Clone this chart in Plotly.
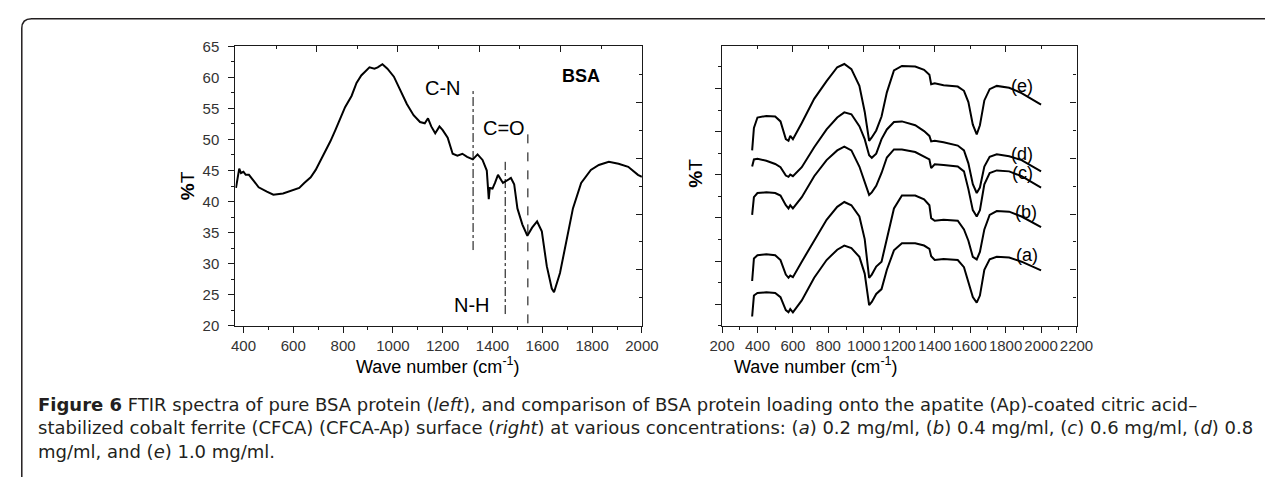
import plotly.graph_objects as go

W, H = 1282, 487

# ---------------- Left panel: pure BSA ----------------
bsa_x = [370, 377, 383, 390, 400, 409, 422, 442, 461, 494, 520, 559, 598, 624, 644,
         670, 690, 710, 729, 749, 769, 788, 808, 834, 854, 873, 906, 926, 939, 958,
         978, 1004, 1030, 1056, 1083, 1109, 1128, 1141, 1154, 1170, 1187, 1200, 1220,
         1240, 1259, 1279, 1298, 1321, 1340, 1360, 1377, 1385, 1389, 1400, 1410, 1422,
         1442, 1459, 1474, 1487, 1500, 1520, 1540, 1559, 1579, 1598, 1618, 1638, 1647,
         1671, 1697, 1723, 1756, 1795, 1827, 1867, 1906, 1945, 1984, 2000]
bsa_t = [42.2, 44.0, 45.3, 44.6, 44.8, 44.3, 44.3, 43.3, 42.3, 41.6, 41.1, 41.3, 41.8,
         42.2, 43.0, 43.9, 45.1, 46.6, 48.2, 49.7, 51.5, 53.4, 55.2, 57.0, 59.1, 60.3,
         61.6, 61.4, 61.6, 62.1, 61.4, 60.1, 57.8, 55.7, 53.9, 52.8, 52.6, 53.4, 52.1,
         51.0, 52.1, 51.5, 50.3, 47.7, 47.4, 47.7, 47.2, 46.8, 47.6, 46.7, 45.0, 40.4,
         42.2, 42.1, 43.0, 44.3, 43.0, 43.5, 43.8, 42.8, 38.9, 36.3, 34.5, 35.8, 36.8,
         35.2, 29.6, 26.0, 25.4, 28.5, 33.7, 38.9, 43.0, 45.1, 45.9, 46.4, 46.1, 45.6,
         44.3, 44.0]

band_names = ["C-N", "N-H", "C=O"]
band_pos = [1322, 1451, 1542]
band_top = [58.0, 46.4, 51.3]
band_bottom = [32.2, 21.9, 20.4]
band_dash = ["dashdot", "dashdot", "dash"]
band_label_x = [1200, 1318, 1448]
band_label_y = [58.3, 23.4, 51.8]

# ---------------- Right panel: BSA on CFCA-Ap ----------------
wn = [370, 380, 400, 450, 500, 530, 560, 575, 585, 600, 650, 720, 790, 850, 890, 930,
      975, 1005, 1030, 1045, 1070, 1100, 1130, 1170, 1215, 1290, 1340, 1370, 1380,
      1400, 1450, 1530, 1565, 1590, 1615, 1637, 1655, 1680, 1710, 1750, 1820, 1890, 2000]

spec_e = [40.66, 45.89, 48.28, 48.65, 48.5, 47.38, 43.27, 42.9, 44.02, 43.27, 47.01,
          52.62, 56.73, 59.94, 60.69, 59.49, 55.61, 49.63, 42.9, 43.65, 45.29, 48.5,
          54.11, 59.19, 60.24, 60.09, 59.34, 58.22, 55.98, 56.2, 55.75, 55.46, 54.48,
          51.87, 46.64, 44.39, 46.49, 52.24, 54.86, 55.61, 55.16, 53.96, 51.27]
spec_d = [36.92, 38.56, 38.71, 38.27, 37.52, 36.77, 34.83, 34.53, 35.05, 34.68, 36.77,
          41.4, 45.52, 48.28, 49.48, 49.03, 46.26, 43.27, 39.54, 38.94, 39.91, 43.27,
          45.52, 47.23, 47.38, 46.49, 45.14, 44.02, 42.75, 42.9, 42.53, 41.78, 40.66,
          37.67, 32.81, 30.79, 32.06, 36.92, 39.16, 39.76, 39.31, 38.41, 35.8]
spec_c = [25.71, 29.82, 30.79, 30.94, 30.79, 30.19, 27.95, 27.2, 27.95, 27.2, 29.82,
          34.68, 38.41, 40.66, 41.55, 40.66, 36.92, 33.18, 30.34, 30.94, 32.44, 35.43,
          39.01, 40.88, 40.88, 40.28, 39.16, 38.56, 36.55, 37.44, 37.29, 36.92, 35.8,
          31.69, 26.83, 25.34, 26.83, 32.81, 35.43, 36.02, 35.8, 34.68, 32.06]
spec_b = [10.39, 15.62, 16.37, 16.59, 16.37, 15.25, 11.88, 11.14, 11.66, 11.29, 14.87,
          19.73, 24.59, 27.58, 28.7, 27.95, 25.34, 20.1, 11.14, 11.88, 13.75, 14.87,
          20.48, 27.2, 30.19, 30.19, 29.3, 27.95, 24.96, 24.36, 24.59, 24.36, 22.35,
          19.73, 15.99, 15.39, 17.11, 22.35, 25.71, 26.61, 26.46, 25.34, 22.87]
spec_a = [2.17, 7.02, 7.62, 7.77, 7.62, 6.65, 3.66, 3.14, 3.89, 3.14, 5.9, 11.14,
          15.25, 17.64, 18.61, 18.01, 15.99, 12.11, 4.78, 5.53, 7.4, 8.52, 13.0, 17.49,
          19.13, 19.13, 18.61, 17.86, 16.14, 15.25, 15.47, 15.25, 13.6, 10.39, 6.65,
          5.38, 7.02, 13.0, 15.4, 15.99, 15.84, 14.87, 12.85]

series_labels = ["(a)", "(b)", "(c)", "(d)", "(e)"]
series_values = [spec_a, spec_b, spec_c, spec_d, spec_e]
label_x = [1921, 1915, 1893, 1893, 1893]
label_y = [16.4, 26.5, 35.4, 39.9, 55.6]

caption_lines = [
    "<b>Figure 6</b> FTIR spectra of pure BSA protein (<i>left</i>), and comparison of BSA protein loading onto the apatite (Ap)-coated citric acid\u2013",
    "stabilized cobalt ferrite (CFCA) (CFCA-Ap) surface (<i>right</i>) at various concentrations: (<i>a</i>) 0.2 mg/ml, (<i>b</i>) 0.4 mg/ml, (<i>c</i>) 0.6 mg/ml, (<i>d</i>) 0.8",
    "mg/ml, and (<i>e</i>) 1.0 mg/ml.",
]

# ---------------- geometry (pixels -> paper) ----------------
def px(x):
    return x / W

def py(y):
    return 1 - y / H

L_dom_x = [px(227.7), px(644)]
R_dom_x = [px(726), px(1089)]
dom_y = [py(328.3), py(38.6)]

AX_FONT = "Liberation Sans, Arial, sans-serif"
LINE_C = "#1a1a1a"

fig = go.Figure()

fig.add_trace(go.Scatter(x=bsa_x, y=bsa_t, mode="lines", line=dict(color="black", width=2),
                         xaxis="x", yaxis="y", showlegend=False, hoverinfo="skip"))
for i, name in enumerate(band_names):
    fig.add_trace(go.Scatter(x=[band_pos[i], band_pos[i]], y=[band_bottom[i], band_top[i]],
                             mode="lines", line=dict(color="black", width=1, dash=band_dash[i]),
                             xaxis="x", yaxis="y", showlegend=False, hoverinfo="skip"))

for vals in series_values:
    fig.add_trace(go.Scatter(x=wn, y=vals, mode="lines", line=dict(color="black", width=2),
                             xaxis="x2", yaxis="y2", showlegend=False, hoverinfo="skip"))

# dummy traces to activate frame-tick axes
fig.add_trace(go.Scatter(x=[None], y=[None], xaxis="x3", yaxis="y3", showlegend=False))
fig.add_trace(go.Scatter(x=[None], y=[None], xaxis="x4", yaxis="y4", showlegend=False))

base = dict(showgrid=False, zeroline=False, showline=True, linecolor=LINE_C, linewidth=1.2,
            tickcolor=LINE_C, tickwidth=1,
            tickfont=dict(family=AX_FONT, size=15, color="#333333"))

fig.update_layout(
    width=W, height=H,
    margin=dict(l=0, r=0, t=0, b=0),
    paper_bgcolor="white", plot_bgcolor="white",
    xaxis=dict(**base, domain=L_dom_x, anchor="y", range=[367.5, 2000], tick0=400, dtick=200,
               ticks="outside", ticklen=6, ticklabelstandoff=0,
               minor=dict(dtick=100, ticks="outside", ticklen=3, tickcolor=LINE_C)),
    yaxis=dict(**base, domain=dom_y, anchor="x", range=[20, 65], tick0=20, dtick=5,
               ticks="outside", ticklen=6, ticklabelstandoff=6,
               minor=dict(dtick=2.5, ticks="outside", ticklen=3, tickcolor=LINE_C)),
    xaxis2=dict(**base, domain=R_dom_x, anchor="y2", range=[200, 2200], tick0=200, dtick=200,
                ticks="outside", ticklen=6, ticklabelstandoff=0,
                minor=dict(dtick=100, ticks="outside", ticklen=3, tickcolor=LINE_C)),
    yaxis2=dict(**base, domain=dom_y, anchor="x2", range=[0, 64.8], tick0=5, dtick=10,
                ticks="outside", ticklen=6, showticklabels=False,
                minor=dict(dtick=5, tick0=0, ticks="outside", ticklen=3, tickcolor=LINE_C)),
    xaxis3=dict(**base, overlaying="x", anchor="y3", side="top", range=[0, 5], dtick=1,
                ticks="inside", ticklen=6, showticklabels=False,
                minor=dict(dtick=0.5, ticks="inside", ticklen=3, tickcolor=LINE_C)),
    yaxis3=dict(**base, overlaying="y", anchor="x3", side="right", range=[0, 5], dtick=1,
                ticks="inside", ticklen=6, showticklabels=False,
                minor=dict(dtick=0.5, ticks="inside", ticklen=3, tickcolor=LINE_C)),
    xaxis4=dict(**base, overlaying="x2", anchor="y4", side="top", range=[200, 2200], tick0=200,
                dtick=400, ticks="inside", ticklen=6, showticklabels=False,
                minor=dict(dtick=200, ticks="inside", ticklen=3, tickcolor=LINE_C)),
    yaxis4=dict(**base, overlaying="y2", anchor="x4", side="right", range=[0, 5], dtick=1,
                ticks="inside", ticklen=6, showticklabels=False,
                minor=dict(dtick=0.5, ticks="inside", ticklen=3, tickcolor=LINE_C)),
)

ann = []
# band labels in left panel
for i, name in enumerate(band_names):
    ann.append(dict(x=band_label_x[i], y=band_label_y[i], xref="x", yref="y", text=name,
                    showarrow=False, font=dict(family=AX_FONT, size=20, color="black")))
ann.append(dict(x=1757, y=60.2, xref="x", yref="y", text="<b>BSA</b>", showarrow=False,
                font=dict(family=AX_FONT, size=18, color="black")))
# series labels in right panel
for i, lab in enumerate(series_labels):
    ann.append(dict(x=label_x[i], y=label_y[i], xref="x2", yref="y2", text=lab,
                    showarrow=False, font=dict(family=AX_FONT, size=18, color="black")))
# axis titles
for cx in (435, 908):
    ann.append(dict(x=px(cx), y=py(369), xref="paper", yref="paper",
                    text="Wave number (cm<sup>-1</sup>)", showarrow=False,
                    yanchor="middle", font=dict(family=AX_FONT, size=18, color="black")))
for cx, cy in ((166, 183), (698, 170)):
    ann.append(dict(x=px(cx), y=py(cy), xref="paper", yref="paper", text="<b>%</b>T",
                    textangle=-90, showarrow=False,
                    font=dict(family=AX_FONT, size=19, color="black")))
# caption (one multi-line block)
ann.append(dict(x=px(24), y=py(434), xref="paper", yref="paper",
                text="<br>".join(caption_lines),
                xanchor="left", yanchor="middle", showarrow=False, align="left",
                font=dict(family="DejaVu Sans, sans-serif", size=18, color="#231f20")))
fig.update_layout(annotations=ann)

# outer frame with rounded top-left corner
frame = (f"M {px(9)},{py(485)} L {px(9)},{py(20)} "
         f"Q {px(9)},{py(10)} {px(19)},{py(10)} L 1,{py(10)}")
fig.add_shape(type="path", path=frame, xref="paper", yref="paper",
              line=dict(color="#231f20", width=1.5))

fig.write_html("out.html")
